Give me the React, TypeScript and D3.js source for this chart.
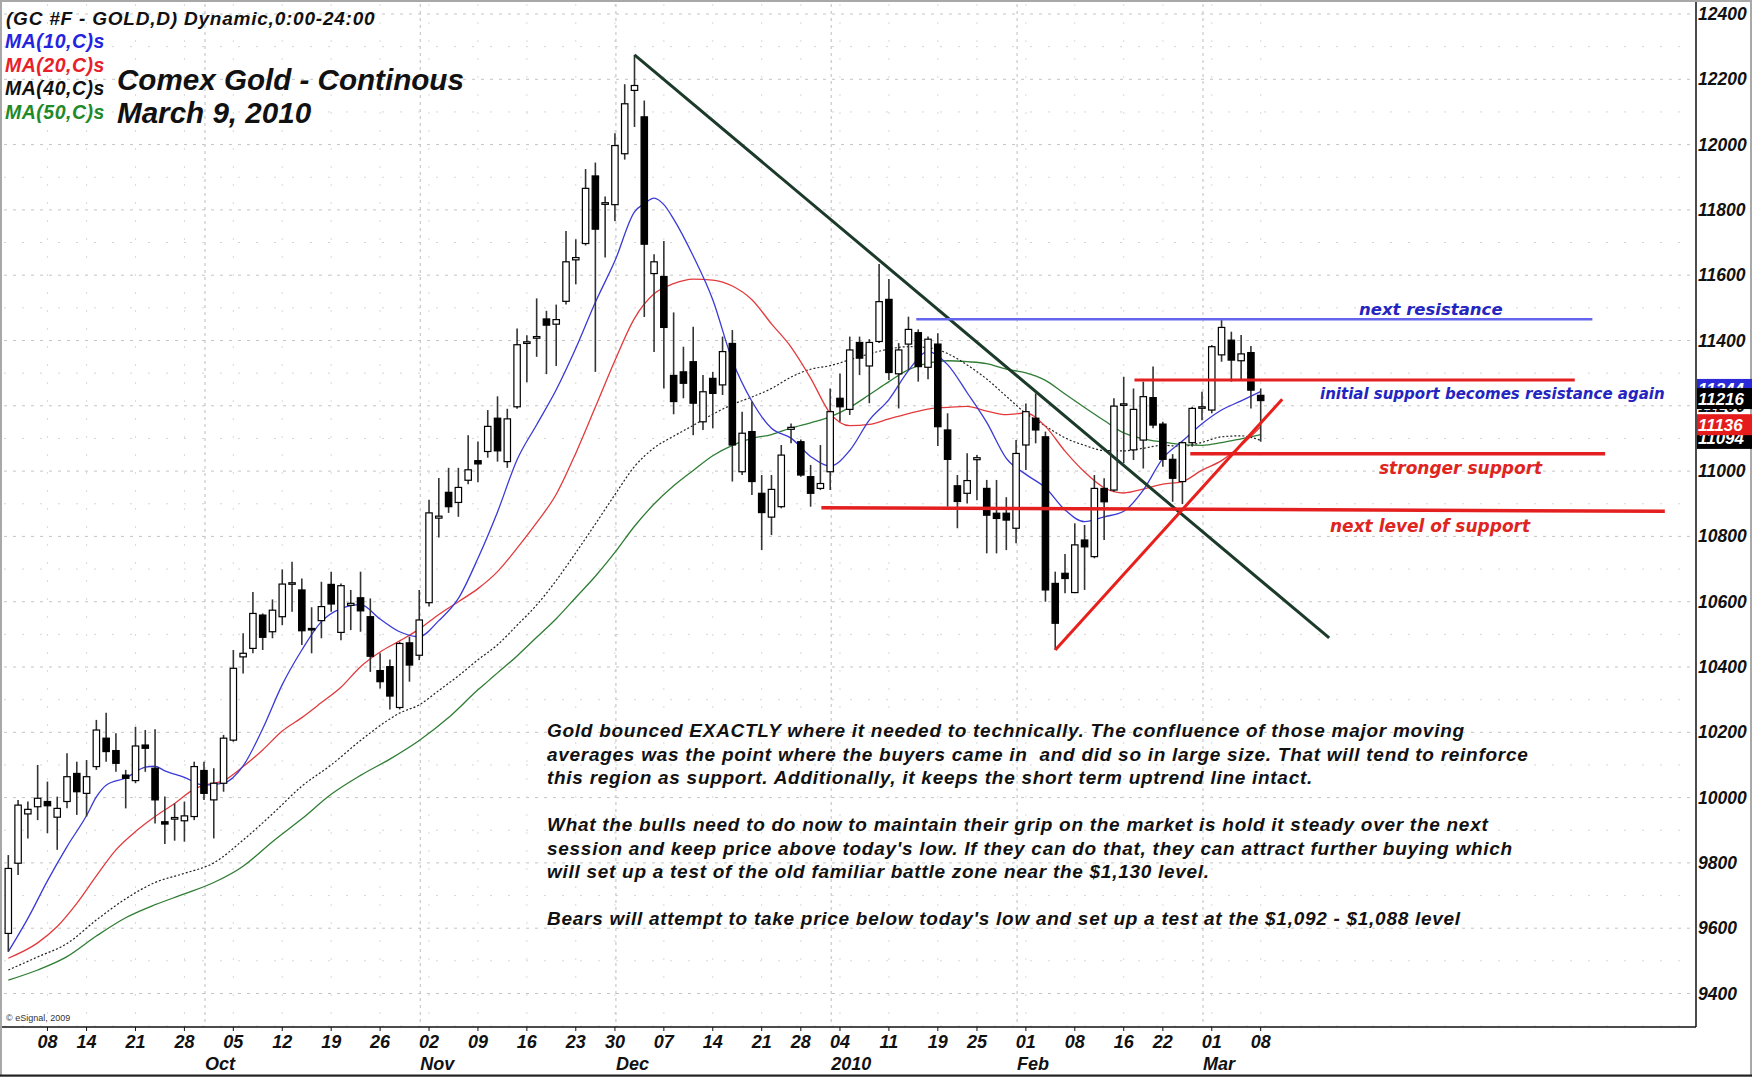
import React from 'react';
import * as d3 from 'd3';

const DATES = [
  '2009-09-01','2009-09-02','2009-09-03','2009-09-04','2009-09-08','2009-09-09','2009-09-10','2009-09-11','2009-09-14','2009-09-15','2009-09-16','2009-09-17','2009-09-18','2009-09-21','2009-09-22','2009-09-23','2009-09-24','2009-09-25','2009-09-28','2009-09-29','2009-09-30',
  '2009-10-01','2009-10-02','2009-10-05','2009-10-06','2009-10-07','2009-10-08','2009-10-09','2009-10-12','2009-10-13','2009-10-14','2009-10-15','2009-10-16','2009-10-19','2009-10-20','2009-10-21','2009-10-22','2009-10-23','2009-10-26','2009-10-27','2009-10-28','2009-10-29','2009-10-30',
  '2009-11-02','2009-11-03','2009-11-04','2009-11-05','2009-11-06','2009-11-09','2009-11-10','2009-11-11','2009-11-12','2009-11-13','2009-11-16','2009-11-17','2009-11-18','2009-11-19','2009-11-20','2009-11-23','2009-11-24','2009-11-25','2009-11-27','2009-11-30',
  '2009-12-01','2009-12-02','2009-12-03','2009-12-04','2009-12-07','2009-12-08','2009-12-09','2009-12-10','2009-12-11','2009-12-14','2009-12-15','2009-12-16','2009-12-17','2009-12-18','2009-12-21','2009-12-22','2009-12-23','2009-12-24','2009-12-28','2009-12-29','2009-12-30','2009-12-31',
  '2010-01-04','2010-01-05','2010-01-06','2010-01-07','2010-01-08','2010-01-11','2010-01-12','2010-01-13','2010-01-14','2010-01-15','2010-01-19','2010-01-20','2010-01-21','2010-01-22','2010-01-25','2010-01-26','2010-01-27','2010-01-28','2010-01-29',
  '2010-02-01','2010-02-02','2010-02-03','2010-02-04','2010-02-05','2010-02-08','2010-02-09','2010-02-10','2010-02-11','2010-02-12','2010-02-16','2010-02-17','2010-02-18','2010-02-19','2010-02-22','2010-02-23','2010-02-24','2010-02-25','2010-02-26',
  '2010-03-01','2010-03-02','2010-03-03','2010-03-04','2010-03-05','2010-03-08'
];

const OPEN = [9584,9799,9950,9972,9988,9940,9988,10074,10013,10095,10182,10144,10069,10052,10161,10090,9926,9934,9929,9942,10083,
  9993,10044,10176,10431,10457,10559,10508,10554,10654,10636,10518,10542,10653,10506,10589,10612,10554,10389,10401,10276,10474,10436,
  10597,10856,10935,10904,10972,11032,11060,11162,11029,11197,11391,11407,11466,11450,11520,11647,11697,11904,11817,11816,
  11972,12166,12085,11605,11596,11293,11304,11335,11151,11284,11264,11391,10998,11121,10932,10859,10891,11128,11090,10983,10947,10998,
  11223,11189,11394,11322,11397,11526,11298,11389,11424,11318,11389,11126,10955,10932,11035,10947,10871,10871,10825,
  11080,11162,11105,10656,10687,10628,10789,10738,10947,10942,11202,11065,11095,11225,11144,11036,10968,11087,11193,
  11187,11356,11401,11338,11363,11232];
const HIGH = [9824,9993,9988,10100,10049,10003,10136,10110,10115,10238,10260,10197,10085,10217,10207,10209,10003,9982,9988,10110,10110,
  10090,10192,10452,10503,10630,10564,10607,10699,10722,10671,10583,10661,10692,10656,10636,10692,10610,10442,10423,10477,10493,10636,
  10912,10979,11010,11010,11110,11091,11187,11229,11191,11437,11416,11529,11491,11510,11735,11710,11925,11945,11841,12035,
  12185,12275,12135,11664,11705,11486,11381,11442,11294,11304,11412,11432,11182,11213,10988,10988,11080,11146,11097,11019,11080,11253,
  11299,11412,11412,11404,11634,11588,11392,11473,11434,11412,11422,11177,10988,11055,11049,10973,10973,10920,11095,
  11207,11238,11121,10692,10746,10840,10835,10988,10978,11223,11289,11253,11274,11320,11151,11052,11090,11197,11243,
  11386,11463,11427,11417,11383,11253];
const LOW = [9528,9763,9875,9931,9891,9840,9967,9947,9942,10085,10110,10079,9967,10044,10079,9921,9858,9868,9865,9931,9993,
  9875,10018,10171,10380,10442,10452,10488,10528,10569,10467,10442,10488,10569,10482,10513,10508,10385,10334,10270,10270,10355,10421,
  10585,10797,10872,10860,10960,10966,11041,11029,11010,11191,11272,11350,11297,11322,11510,11572,11691,11304,11654,11766,
  11954,12054,11472,11365,11253,11174,11223,11110,11126,11131,11233,10968,10988,10927,10758,10804,10886,11085,10983,10891,10942,10942,
  11151,11172,11294,11208,11392,11279,11192,11310,11274,11281,11077,10891,10825,10901,10911,10748,10748,10758,10779,
  11003,11085,10600,10452,10626,10626,10636,10733,10789,10937,11024,11034,11008,11131,11013,10906,10899,11075,11156,
  11177,11335,11274,11279,11192,11090];
const CLOSE = [9783,9977,9964,9998,9975,9967,10064,10018,10064,10207,10141,10105,10059,10158,10151,9993,9919,9939,9944,10095,10013,
  10044,10182,10396,10442,10564,10491,10574,10654,10658,10511,10515,10585,10593,10649,10595,10572,10433,10355,10311,10472,10406,10544,
  10872,10862,10891,10950,11004,11022,11137,11062,11160,11387,11396,11412,11447,11464,11641,11654,11866,11741,11822,11997,
  12125,12181,11695,11641,11440,11213,11269,11208,11243,11238,11366,11080,11116,10968,10873,10944,11049,11134,10988,10932,10962,11182,
  11197,11371,11346,11394,11519,11302,11371,11434,11320,11404,11136,11036,10907,10971,11041,10865,10855,10850,11054,
  11182,11126,10636,10534,10671,10774,10768,10947,10906,11199,11206,11189,11228,11141,11036,10978,11087,11192,11197,
  11381,11440,11340,11359,11248,11216];

// moving averages: [bar index, value]
const MA10: [number, number][] = [[0,9528],[2,9630],[4,9745],[6,9850],[8,9945],[9,10002],[10,10038],[12,10060],[14,10093],[15,10096],[16,10082],[18,10062],[20,10038],[22,10044],[24,10097],[26,10211],[28,10346],[30,10452],[32,10539],[34,10579],[36,10591],[38,10547],[40,10508],[42,10493],[44,10542],[46,10610],[48,10733],[50,10875],[52,11035],[54,11142],[56,11249],[58,11376],[60,11517],[62,11644],[64,11794],[65,11819],[66,11836],[67,11816],[68,11772],[70,11659],[72,11525],[74,11339],[76,11214],[78,11131],[80,11101],[82,11045],[84,11015],[86,11063],[88,11156],[90,11219],[92,11308],[94,11366],[96,11326],[98,11240],[100,11149],[102,11039],[104,10990],[106,10949],[108,10881],[110,10845],[112,10860],[114,10877],[116,10942],[118,11039],[120,11092],[122,11145],[124,11187],[126,11215],[128,11244]];
const MA20: [number, number][] = [[0,9508],[3,9555],[5,9605],[7,9676],[9,9760],[11,9840],[13,9896],[15,9942],[17,9982],[19,10026],[20,10038],[22,10052],[24,10095],[26,10146],[28,10204],[30,10245],[32,10291],[34,10338],[36,10401],[38,10446],[40,10480],[42,10516],[44,10561],[46,10600],[48,10640],[50,10692],[52,10764],[54,10842],[56,10929],[58,11055],[60,11196],[62,11339],[64,11468],[66,11543],[68,11574],[70,11588],[72,11585],[74,11567],[76,11525],[78,11451],[80,11380],[82,11285],[84,11177],[86,11139],[88,11143],[90,11160],[92,11176],[94,11190],[96,11195],[98,11198],[100,11184],[102,11173],[104,11178],[106,11137],[108,11061],[110,10997],[112,10949],[114,10933],[116,10945],[118,10960],[120,10968],[122,11003],[124,11032],[126,11079],[128,11136]];
const MA40: [number, number][] = [[0,9472],[3,9512],[6,9553],[9,9625],[12,9690],[15,9740],[18,9768],[21,9800],[24,9870],[27,9950],[30,10035],[33,10100],[36,10175],[39,10241],[40,10259],[42,10284],[44,10328],[46,10373],[48,10422],[50,10468],[52,10528],[54,10590],[56,10665],[58,10750],[60,10838],[62,10928],[64,11014],[66,11071],[68,11107],[70,11140],[72,11174],[74,11204],[76,11227],[78,11253],[80,11288],[82,11312],[84,11323],[86,11341],[88,11359],[90,11374],[92,11381],[94,11378],[96,11360],[98,11325],[100,11282],[102,11229],[104,11177],[106,11138],[108,11102],[110,11079],[112,11063],[114,11062],[116,11070],[118,11079],[120,11076],[122,11088],[124,11105],[126,11108],[128,11094]];
const MA50: [number, number][] = [[0,9441],[3,9472],[6,9513],[9,9576],[12,9632],[15,9672],[18,9705],[21,9740],[24,9790],[27,9865],[30,9935],[33,10010],[36,10068],[39,10118],[42,10175],[45,10245],[48,10330],[49,10356],[50,10382],[52,10434],[54,10491],[56,10548],[58,10613],[60,10678],[62,10751],[64,10831],[66,10899],[68,10955],[70,11002],[72,11047],[74,11079],[76,11100],[78,11112],[80,11132],[82,11148],[84,11166],[86,11195],[88,11234],[90,11274],[92,11311],[94,11331],[96,11338],[98,11335],[100,11329],[102,11312],[104,11301],[106,11278],[108,11236],[110,11195],[112,11155],[114,11117],[116,11099],[118,11089],[120,11081],[122,11079],[124,11087],[126,11099],[128,11112]];

const Y_TICKS = [9400,9600,9800,10000,10200,10400,10600,10800,11000,11200,11400,11600,11800,12000,12200,12400];
const DAY_TICKS = ['2009-09-08','2009-09-14','2009-09-21','2009-09-28','2009-10-05','2009-10-12','2009-10-19','2009-10-26','2009-11-02','2009-11-09','2009-11-16','2009-11-23','2009-11-30','2009-12-07','2009-12-14','2009-12-21','2009-12-28','2010-01-04','2010-01-11','2010-01-19','2010-01-25','2010-02-01','2010-02-08','2010-02-16','2010-02-22','2010-03-01','2010-03-08'];
const MONTH_LABELS: [string, string][] = [['2009-10-01','Oct'],['2009-11-02','Nov'],['2009-12-01','Dec'],['2010-01-04','2010'],['2010-02-01','Feb'],['2010-03-01','Mar']];

// hand-drawn analysis lines in [bar index, price]
const TREND_DOWN: [number, number][] = [[64, 12275], [135, 10489]];
const TREND_UP: [number, number][] = [[107, 10452], [130.2, 11220]];
const LEVELS = [
  { x0: 92.8, x1: 161.9, v0: 11465, v1: 11465, color: '#6464ee', w: 2.5 },
  { x0: 115.1, x1: 160.1, v0: 11279, v1: 11279, color: '#e3201f', w: 3 },
  { x0: 120.8, x1: 163.2, v0: 11053, v1: 11053, color: '#e3201f', w: 3.5 },
  { x0: 83.1, x1: 169.3, v0: 10888, v1: 10877, color: '#e3201f', w: 3.5 },
];

const PARAGRAPH = [
  'Gold bounced EXACTLY where it needed to technically. The confluence of those major moving',
  'averages was the point where the buyers came in  and did so in large size. That will tend to reinforce',
  'this region as support. Additionally, it keeps the short term uptrend line intact.',
  '',
  'What the bulls need to do now to maintain their grip on the market is hold it steady over the next',
  "session and keep price above today's low. If they can do that, they can attract further buying which",
  'will set up a test of the old familiar battle zone near the $1,130 level.',
  '',
  "Bears will attempt to take price below today's low and set up a test at the $1,092 - $1,088 level",
];

const W = 1752, H = 1077;
const PR = 1696, PB = 1027;
const FONT = '"Liberation Sans", Arial, sans-serif';
const VFONT = '"DejaVu Sans", Verdana, sans-serif';

export default function App() {
  const x = d3.scaleLinear().domain([0, DATES.length - 1]).range([8.3, 1260.7]);
  const y = d3.scaleLinear().domain([9400, 12400]).range([993.5, 14]);
  const line = d3.line<[number, number]>().x(d => x(d[0])).y(d => y(d[1])).curve(d3.curveMonotoneX);
  const idx = (d: string) => DATES.indexOf(d);
  const bodyW = 6.4;

  const monthSeps: number[] = [];
  for (let i = 0; i < DATES.length - 1; i++) {
    if (DATES[i].slice(5, 7) !== DATES[i + 1].slice(5, 7)) monthSeps.push(i);
  }

  const boxes = [
    { v: MA10[MA10.length - 1][1], fill: '#2a2ad8' },
    { v: MA40[MA40.length - 1][1], fill: '#000' },
    { v: MA20[MA20.length - 1][1], fill: '#e51c1c' },
    { v: CLOSE[CLOSE.length - 1], fill: '#000' },
  ];

  return (
    <svg width={W} height={H} style={{ position: 'absolute', left: 0, top: 0, background: '#fff', display: 'block' }}>
      <rect x={0} y={0} width={W} height={H} fill="#fff" />
      {/* grid */}
      <g>
        {d3.range(9300, 12500, 100).map(v => (
          <line key={'h' + v} x1={4} x2={PR} y1={y(v)} y2={y(v)}
            stroke={v % 200 === 0 ? '#c4c4c4' : '#d6d6d6'} strokeWidth={1}
            strokeDasharray={v % 200 === 0 ? '3 6' : '2 16'} />
        ))}
        {DAY_TICKS.map(d => (
          <line key={'v' + d} x1={x(idx(d))} x2={x(idx(d))} y1={4} y2={PB} stroke="#dadada" strokeDasharray="2 16" />
        ))}
        {monthSeps.map(i => (
          <line key={'m' + i} x1={x(i) + 1} x2={x(i) + 1} y1={4} y2={PB} stroke="#bdbdbd" strokeDasharray="3 4" />
        ))}
      </g>

      {/* moving averages */}
      <path d={line(MA50) || ''} fill="none" stroke="#2f7d34" strokeWidth={1.3} />
      <path d={line(MA40) || ''} fill="none" stroke="#222" strokeWidth={1.2} strokeDasharray="2 2" />
      <path d={line(MA20) || ''} fill="none" stroke="#e23a3c" strokeWidth={1.3} />
      <path d={line(MA10) || ''} fill="none" stroke="#3a3ad6" strokeWidth={1.3} />

      {/* candles */}
      <g>
        {DATES.map((d, i) => {
          const up = CLOSE[i] >= OPEN[i];
          const top = y(Math.max(OPEN[i], CLOSE[i]));
          const bot = y(Math.min(OPEN[i], CLOSE[i]));
          return (
            <g key={d}>
              <line x1={x(i)} x2={x(i)} y1={y(HIGH[i])} y2={y(LOW[i])} stroke="#333" strokeWidth={1.6} />
              <rect x={x(i) - bodyW / 2} y={top} width={bodyW} height={Math.max(1.5, bot - top)}
                fill={up ? '#fff' : '#000'} stroke="#000" strokeWidth={1.2} />
            </g>
          );
        })}
      </g>

      {/* analysis lines */}
      <line x1={x(TREND_DOWN[0][0])} y1={y(TREND_DOWN[0][1])} x2={x(TREND_DOWN[1][0])} y2={y(TREND_DOWN[1][1])}
        stroke="#1c3a2a" strokeWidth={3} />
      {LEVELS.map((l, i) => (
        <line key={'l' + i} x1={x(l.x0)} x2={x(l.x1)} y1={y(l.v0)} y2={y(l.v1)} stroke={l.color} strokeWidth={l.w} />
      ))}
      <line x1={x(TREND_UP[0][0])} y1={y(TREND_UP[0][1])} x2={x(TREND_UP[1][0])} y2={y(TREND_UP[1][1])}
        stroke="#e8201c" strokeWidth={3} />

      {/* annotation texts */}
      <g fontFamily={VFONT} fontStyle="italic" fontWeight="bold">
        <text x={1359} y={315} fontSize={16.5} fill="#2424c0">next resistance</text>
        <text x={1320} y={399} fontSize={15} fill="#2424c0">initial support becomes resistance again</text>
        <text x={1379} y={474} fontSize={17} fill="#e0241e">stronger support</text>
        <text x={1330} y={532} fontSize={17} fill="#e0241e">next level of support</text>
      </g>

      {/* paragraph */}
      <g fontFamily={FONT} fontStyle="italic" fontWeight="bold" fontSize={19} letterSpacing={0.72} fill="#111">
        {PARAGRAPH.map((t, i) => t ? <text key={'p' + i} x={547} y={737 + i * 23.5} xmlSpace="preserve" style={{ whiteSpace: 'pre' }}>{t}</text> : null)}
      </g>

      {/* header */}
      <g fontFamily={FONT} fontStyle="italic" fontWeight="bold">
        <text x={6} y={24.5} fontSize={19} letterSpacing={0.78} fill="#111">(GC #F - GOLD,D) Dynamic,0:00-24:00</text>
        <text x={5} y={48} fontSize={19.5} letterSpacing={0.5} fill="#2424e0">MA(10,C)s</text>
        <text x={5} y={71.5} fontSize={19.5} letterSpacing={0.5} fill="#e8202a">MA(20,C)s</text>
        <text x={5} y={95} fontSize={19.5} letterSpacing={0.5} fill="#111">MA(40,C)s</text>
        <text x={5} y={119} fontSize={19.5} letterSpacing={0.5} fill="#1f8a2a">MA(50,C)s</text>
        <text x={117} y={90} fontSize={29.6} fill="#111">Comex Gold - Continous</text>
        <text x={117} y={123} fontSize={29.6} fill="#111">March 9, 2010</text>
      </g>
      <text x={6} y={1021} fontFamily={FONT} fontSize={9} fill="#333">© eSignal, 2009</text>

      {/* frame */}
      <line x1={PR} x2={PR} y1={0} y2={PB} stroke="#111" strokeWidth={1.5} />
      <line x1={0} x2={PR} y1={PB} y2={PB} stroke="#111" strokeWidth={1.5} />
      <rect x={1} y={1} width={W - 2} height={H - 2} fill="none" stroke="#a8a8a8" strokeWidth={2} />
      <line x1={0} x2={W} y1={H - 1.5} y2={H - 1.5} stroke="#222" strokeWidth={2} />

      {/* right axis */}
      <g fontFamily={FONT} fontStyle="italic" fontWeight="bold" fontSize={17.5} fill="#111">
        {Y_TICKS.map(v => <text key={'yt' + v} x={1698} y={y(v) + 6}>{v}</text>)}
      </g>
      <g fontFamily={FONT} fontStyle="italic" fontWeight="bold" fontSize={17}>
        {boxes.map((b, i) => (
          <g key={'b' + i}>
            <rect x={PR + 1} y={y(b.v) - 12.5} width={W - PR - 1} height={21} fill={b.fill} />
            <text x={1698} y={y(b.v) + 4} fill="#fff">{b.v}</text>
          </g>
        ))}
      </g>

      {/* bottom axis */}
      <g fontFamily={FONT} fontStyle="italic" fontWeight="bold" fontSize={18} fill="#111">
        {DAY_TICKS.map(d => (
          <g key={'dt' + d}>
            <line x1={x(idx(d))} x2={x(idx(d))} y1={PB} y2={PB + 4} stroke="#111" />
            <text x={x(idx(d))} y={1047.5} textAnchor="middle">{d.slice(8, 10)}</text>
          </g>
        ))}
        {MONTH_LABELS.map(([d, t]) => (
          <text key={'ml' + d} x={x(idx(d) - 1) + 1} y={1070}>{t}</text>
        ))}
      </g>
    </svg>
  );
}
